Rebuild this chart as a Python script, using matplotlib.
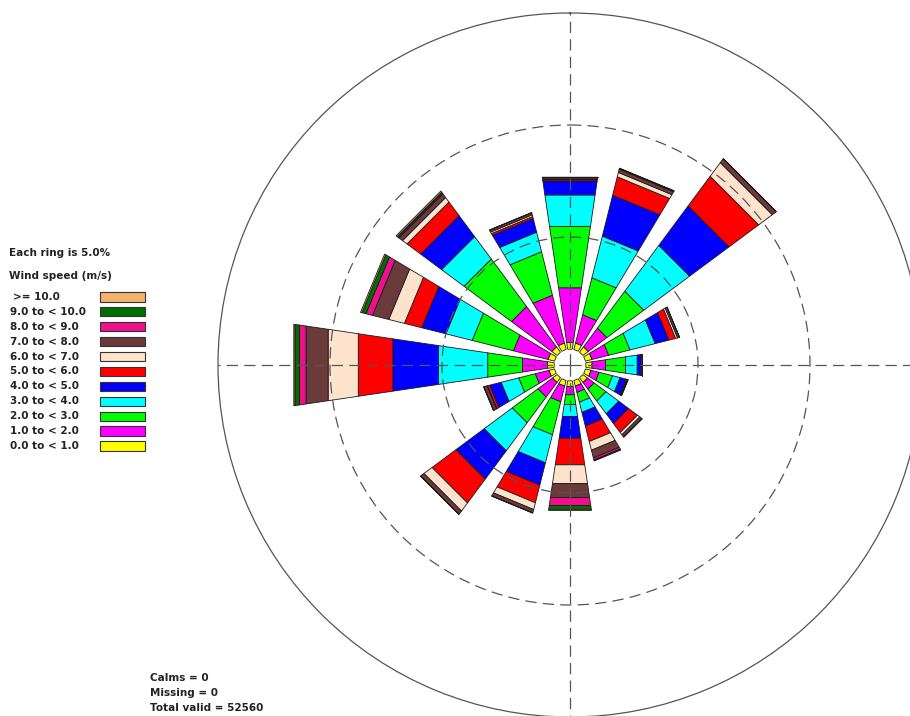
import numpy as np
import matplotlib.pyplot as plt
from matplotlib.patches import Rectangle

# 16 compass sectors, clockwise from North
directions = ['N', 'NNE', 'NE', 'ENE', 'E', 'ESE', 'SE', 'SSE',
              'S', 'SSW', 'SW', 'WSW', 'W', 'WNW', 'NW', 'NNW']

# frequency (%) of each wind speed class per sector
spd_0_1   = [0.30, 0.30, 0.30, 0.30, 0.28, 0.26, 0.26, 0.26, 0.26, 0.26, 0.26, 0.26, 0.30, 0.30, 0.30, 0.30]
spd_1_2   = [2.47, 1.30, 1.04, 0.77, 0.61, 0.37, 0.37, 0.29, 0.37, 0.72, 0.81, 0.63, 1.13, 1.59, 2.24, 2.20]
spd_2_3   = [2.77, 1.70, 2.05, 0.98, 0.90, 0.62, 0.66, 0.45, 0.44, 1.52, 1.43, 0.76, 1.57, 1.90, 2.64, 2.00]
spd_3_4   = [1.42, 1.92, 2.55, 1.16, 0.53, 0.35, 0.71, 0.47, 0.54, 1.29, 1.56, 0.81, 2.22, 1.21, 1.25, 0.90]
spd_4_5   = [0.63, 1.88, 2.19, 0.63, 0.18, 0.28, 0.54, 0.63, 0.98, 1.03, 1.57, 0.53, 2.06, 1.11, 1.16, 0.63]
spd_5_6   = [0.06, 0.85, 1.65, 0.31, 0.05, 0.04, 0.50, 0.71, 1.20, 0.81, 1.33, 0.10, 1.56, 0.80, 0.76, 0.09]
spd_6_7   = [0.03, 0.20, 0.76, 0.09, 0.00, 0.00, 0.13, 0.40, 0.85, 0.31, 0.45, 0.02, 1.36, 0.72, 0.25, 0.08]
spd_7_8   = [0.08, 0.15, 0.22, 0.09, 0.00, 0.04, 0.13, 0.36, 0.63, 0.16, 0.19, 0.15, 1.00, 0.75, 0.20, 0.10]
spd_8_9   = [0.00, 0.03, 0.00, 0.00, 0.00, 0.00, 0.00, 0.09, 0.36, 0.00, 0.00, 0.00, 0.30, 0.30, 0.05, 0.00]
spd_9_10  = [0.00, 0.00, 0.00, 0.00, 0.00, 0.00, 0.00, 0.04, 0.17, 0.00, 0.00, 0.00, 0.20, 0.19, 0.05, 0.00]
spd_10_up = [0.00, 0.02, 0.00, 0.00, 0.00, 0.00, 0.00, 0.00, 0.05, 0.00, 0.00, 0.00, 0.05, 0.06, 0.06, 0.00]

speed_classes = [spd_0_1, spd_1_2, spd_2_3, spd_3_4, spd_4_5, spd_5_6,
                 spd_6_7, spd_7_8, spd_8_9, spd_9_10, spd_10_up]
speed_labels = ['0.0 to < 1.0', '1.0 to < 2.0', '2.0 to < 3.0', '3.0 to < 4.0',
                '4.0 to < 5.0', '5.0 to < 6.0', '6.0 to < 7.0', '7.0 to < 8.0',
                '8.0 to < 9.0', '9.0 to < 10.0', '>= 10.0']
speed_colors = ['#ffff00', '#ff00ff', '#00ff00', '#00ffff', '#0000ff', '#ff0000',
                '#fde3cc', '#6b3a3a', '#f0108a', '#006e00', '#f4b36b']

calms, missing, total_valid = 0, 0, 52560
ring_step = 5.0
calm_radius = 0.714   # empty circle in the middle, in % units

W, H = 910, 716
fig = plt.figure(figsize=(W / 100, H / 100), dpi=100)


def fx(px):
    return px / W


def fy(py):
    return 1 - py / H


# polar rose: centre at (570, 365) px, outer ring 352 px
cx, cy, R = 570, 365, 352
ax = fig.add_axes([fx(cx - R), fy(cy + R), 2 * R / W, 2 * R / H], projection='polar')
ax.set_theta_zero_location('N')
ax.set_theta_direction(-1)

theta = np.deg2rad(np.arange(16) * 22.5)
width = np.deg2rad(16.8)
bottom = np.full(16, calm_radius)
for vals, col in zip(speed_classes, speed_colors):
    vals = np.array(vals)
    bars = ax.bar(theta, vals, width=width, bottom=bottom, color=col,
                  edgecolor='#1a1a1a', linewidth=0.6, align='center')
    # straight segment ends instead of arcs
    for b in bars:
        b.get_path()._interpolation_steps = 1
    bottom = bottom + vals

ax.set_ylim(0, calm_radius + 3 * ring_step)
ax.set_rticks([calm_radius + ring_step, calm_radius + 2 * ring_step])
ax.set_yticklabels([])
ax.set_thetagrids([0, 90, 180, 270], labels=['', '', '', ''])
ax.set_axisbelow(False)
ax.grid(True, color='#555555', linestyle=(0, (9, 5)), linewidth=0.9)
ax.spines['polar'].set_color('#555555')
ax.spines['polar'].set_linewidth(0.9)
ax.tick_params(pad=0)

txt = dict(fontsize=7.5, fontweight='bold', color='#222222',
           family='DejaVu Sans', va='center', ha='left')

fig.text(fx(9), fy(253), 'Each ring is %.1f%%' % ring_step, **txt)
fig.text(fx(9), fy(276), 'Wind speed (m/s)', **txt)

# legend rows, fastest class on top
for i, (lab, col) in enumerate(zip(speed_labels[::-1], speed_colors[::-1])):
    yc = 297 + 14.9 * i
    x0 = 13 if lab.startswith('>') else 10
    fig.text(fx(x0), fy(yc), lab, **txt)
    fig.add_artist(Rectangle((fx(100), fy(yc + 4.6)), 45 / W, 9.3 / H,
                             transform=fig.transFigure, facecolor=col,
                             edgecolor='#333333', linewidth=0.8))

fig.text(fx(150), fy(678), 'Calms = %d' % calms, **txt)
fig.text(fx(150), fy(693), 'Missing = %d' % missing, **txt)
fig.text(fx(150), fy(708), 'Total valid = %d' % total_valid, **txt)

fig.savefig('out.png', dpi=100)
